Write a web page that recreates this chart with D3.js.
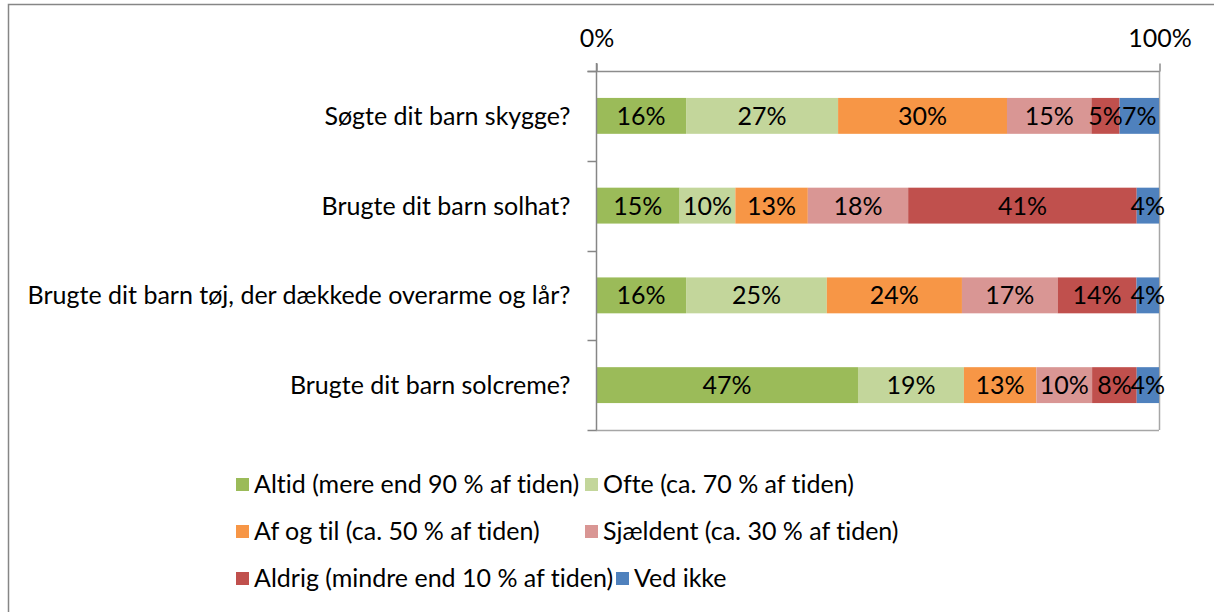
<!DOCTYPE html>
<html>
<head>
<meta charset="utf-8">
<script src="https://cdn.jsdelivr.net/npm/d3@7"></script>
<style>
  body { margin: 0; background: #fff; }
  svg { display: block; }
  text { font-family: Lato, "Open Sans", sans-serif; fill: #000; font-variant-ligatures: none; }
</style>
</head>
<body>
<div id="chart"></div>
<script>
const questions = [
  'Søgte dit barn skygge?',
  'Brugte dit barn solhat?',
  'Brugte dit barn tøj, der dækkede overarme og lår?',
  'Brugte dit barn solcreme?'
]
const seriesNames = [
  'Altid (mere end 90 % af tiden)',
  'Ofte (ca. 70 % af tiden)',
  'Af og til (ca. 50 % af tiden)',
  'Sjældent (ca. 30 % af tiden)',
  'Aldrig (mindre end 10 % af tiden)',
  'Ved ikke'
]
const altid = [16, 15, 16, 47]
const ofte = [27, 10, 25, 19]
const afOgTil = [30, 13, 24, 13]
const sjaeldent = [15, 18, 17, 10]
const aldrig = [5, 41, 14, 8]
const vedIkke = [7, 4, 4, 4]
const tickValues = [0, 1]
const tickLabels = ['0%', '100%']

const seriesValues = [altid, ofte, afOgTil, sjaeldent, aldrig, vedIkke]
const colors = ['#9BBB59', '#C3D69B', '#F79646', '#D99694', '#C0504D', '#4F81BD']

const width = 1214
const height = 612
const plotLeft = 596
const plotRight = 1159
const plotTop = 71
const plotBottom = 430
const fontSize = 25

// one row per question, keyed by series index
const rows = questions.map((q, i) => {
  const r = { question: q }
  seriesValues.forEach((vals, j) => r[j] = vals[i])
  return r
})
const keys = seriesNames.map((d, j) => j)
const stacked = d3.stack()
  .keys(keys)
  .offset(d3.stackOffsetExpand)(rows)

const x = d3.scaleLinear().domain([0, 1]).range([plotLeft, plotRight])
const y = d3.scaleBand().domain(questions).range([plotTop, plotBottom]).paddingInner(0.6).paddingOuter(0.3)
const yOuter = d3.scaleBand().domain(questions).range([plotTop, plotBottom])

const svg = d3.select('#chart').append('svg')
  .attr('width', width)
  .attr('height', height)

// outer frame (only top and left visible)
svg.append('path')
  .attr('d', `M8.5,${height}V4.5H${width}`)
  .attr('fill', 'none')
  .attr('stroke', '#868686')
  .attr('stroke-width', 1.5)

// 100% gridline and bottom edge
svg.append('line')
  .attr('x1', x(1) + 0.5).attr('x2', x(1) + 0.5)
  .attr('y1', plotTop).attr('y2', plotBottom)
  .attr('stroke', '#a6a6a6').attr('stroke-width', 1.5)
svg.append('line')
  .attr('x1', plotLeft).attr('x2', plotRight)
  .attr('y1', plotBottom + 0.5).attr('y2', plotBottom + 0.5)
  .attr('stroke', '#a6a6a6').attr('stroke-width', 1.5)

// bars
const layer = svg.append('g').selectAll('g')
  .data(stacked)
  .join('g')
  .attr('fill', (d, i) => colors[i])

layer.selectAll('rect')
  .data(d => d)
  .join('rect')
  .attr('x', d => x(d[0]))
  .attr('width', d => x(d[1]) - x(d[0]))
  .attr('y', d => y(d.data.question))
  .attr('height', y.bandwidth())

// value labels
svg.append('g').selectAll('g')
  .data(stacked)
  .join('g')
  .each(function (s) {
    d3.select(this).selectAll('text')
      .data(s)
      .join('text')
      .attr('x', d => (x(d[0]) + x(d[1])) / 2)
      .attr('y', d => y(d.data.question) + y.bandwidth() / 2)
      .attr('dy', '0.36em')
      .attr('text-anchor', 'middle')
      .attr('font-size', fontSize)
      .text(d => `${d.data[s.key]}%`)
  })

// top value axis
const xAxis = d3.axisTop(x)
  .tickValues(tickValues)
  .tickFormat((d, i) => tickLabels[i])
  .tickSize(8)
  .tickPadding(17)
svg.append('g')
  .attr('transform', `translate(0.5,${plotTop + 0.5})`)
  .call(xAxis)
  .call(g => g.selectAll('.domain').attr('d', `M${plotLeft - 9},0H${plotRight}`).attr('stroke', '#8c8c8c').attr('stroke-width', 1.5))
  .call(g => g.selectAll('.tick line').attr('stroke', '#8c8c8c').attr('stroke-width', 1.5))
  .call(g => g.selectAll('.tick text').attr('font-size', fontSize).attr('font-family', 'Lato, sans-serif').attr('fill', '#000'))

// left category axis with ticks between categories
const yAxisG = svg.append('g').attr('transform', `translate(${plotLeft + 0.5},0)`)
yAxisG.append('line')
  .attr('y1', plotTop - 8).attr('y2', plotBottom)
  .attr('stroke', '#868686').attr('stroke-width', 1.5)
yAxisG.selectAll('line.tick')
  .data(questions.concat(['end']))
  .join('line')
  .attr('class', 'tick')
  .attr('x1', -9).attr('x2', 0)
  .attr('y1', (d, i) => Math.round(i < questions.length ? yOuter(d) : plotBottom) + 0.5)
  .attr('y2', (d, i) => Math.round(i < questions.length ? yOuter(d) : plotBottom) + 0.5)
  .attr('stroke', '#868686').attr('stroke-width', 1.5)
yAxisG.selectAll('text')
  .data(questions)
  .join('text')
  .attr('x', -26)
  .attr('y', d => yOuter(d) + yOuter.bandwidth() / 2)
  .attr('dy', '0.36em')
  .attr('text-anchor', 'end')
  .attr('font-size', fontSize)
  .text(d => d)

// legend: entries flow in rows of two, last entry follows its neighbour
const legendPos = [[236, 484], [585, 484], [236, 531], [585, 531], [236, 578], [616, 578]]
const legend = svg.append('g').selectAll('g')
  .data(seriesNames)
  .join('g')
  .attr('transform', (d, i) => `translate(${legendPos[i][0]},${legendPos[i][1]})`)
legend.append('rect')
  .attr('x', 0).attr('y', -6)
  .attr('width', 13).attr('height', 13)
  .attr('fill', (d, i) => colors[i])
legend.append('text')
  .attr('x', 18)
  .attr('dy', '0.36em')
  .attr('font-size', fontSize)
  .text(d => d)
</script>
</body>
</html>
